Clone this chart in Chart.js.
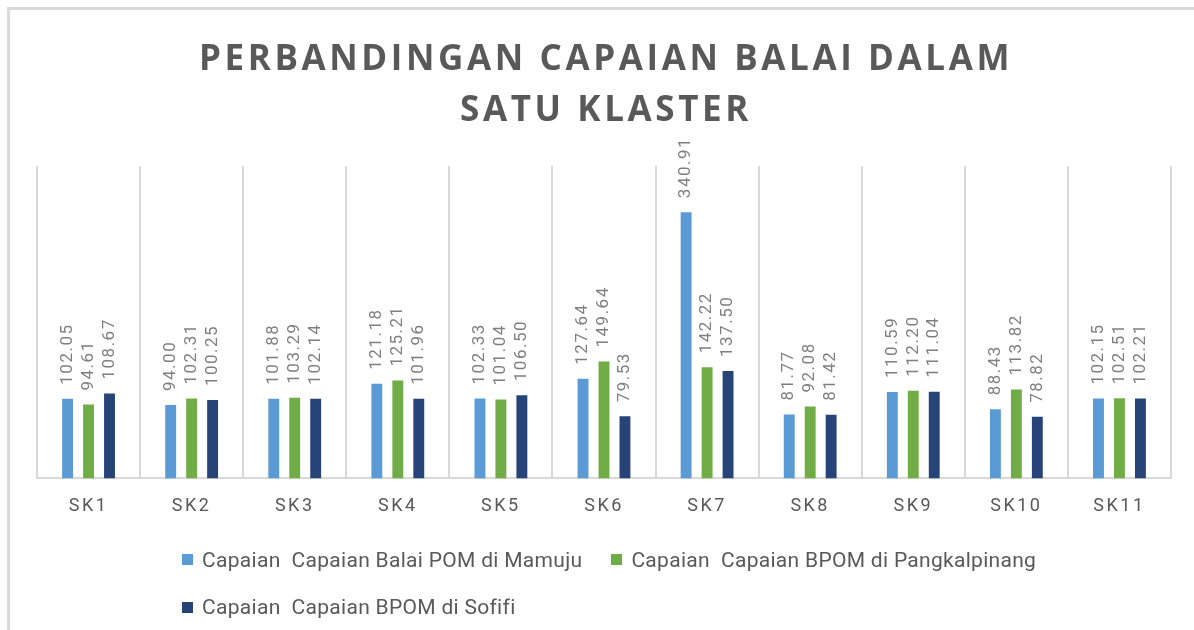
<!DOCTYPE html>
<html>
<head>
<meta charset="utf-8">
<script src="https://cdn.jsdelivr.net/npm/chart.js@4.4.1/dist/chart.umd.min.js"></script>
<style>
  html, body { margin: 0; padding: 0; background: #fff; overflow: hidden; }
  #wrap { position: relative; width: 1194px; height: 630px; }
  #frame {
    position: absolute; left: 7px; top: 7px; width: 1250px; height: 700px;
    border: 3px solid #dadada; box-sizing: border-box;
  }
  #chart { position: absolute; left: 0; top: 0; }
  #legend {
    position: absolute; left: 182px; top: 535px; width: 900px;
    font-family: Roboto, sans-serif; font-size: 21px; letter-spacing: 0.3px;
    color: #595959; line-height: 46px;
  }
  .item { display: inline-flex; align-items: center; margin-right: 29px; white-space: pre; }
  .box { width: 11px; height: 11px; margin-right: 9px; }
</style>
</head>
<body>
<div id="wrap">
  <div id="frame"></div>
  <canvas id="chart" width="1194" height="630"></canvas>
  <div id="legend"></div>
</div>
<script>
// Data
const titleLines = ['PERBANDINGAN CAPAIAN BALAI DALAM', 'SATU KLASTER'];
const categories = ['SK1', 'SK2', 'SK3', 'SK4', 'SK5', 'SK6', 'SK7', 'SK8', 'SK9', 'SK10', 'SK11'];
const seriesNames = [
  'Capaian  Capaian Balai POM di Mamuju',
  'Capaian  Capaian BPOM di Pangkalpinang',
  'Capaian  Capaian BPOM di Sofifi'
];
const mamuju = [102.05, 94.00, 101.88, 121.18, 102.33, 127.64, 340.91, 81.77, 110.59, 88.43, 102.15];
const pangkalpinang = [94.61, 102.31, 103.29, 125.21, 101.04, 149.64, 142.22, 92.08, 112.20, 113.82, 102.51];
const sofifi = [108.67, 100.25, 102.14, 101.96, 106.50, 79.53, 137.50, 81.42, 111.04, 78.82, 102.21];
const colors = ['#5b9bd5', '#70ad47', '#264478'];

// letter spacing for axis labels, reset later
const spacingPlugin = {
  id: 'spacing',
  beforeDraw(chart) {
    chart.ctx.letterSpacing = '2.5px';
  }
};

// rotated value labels above each bar
const valueLabels = {
  id: 'valueLabels',
  afterDatasetsDraw(chart) {
    const ctx = chart.ctx;
    chart.data.datasets.forEach((ds, i) => {
      const meta = chart.getDatasetMeta(i);
      meta.data.forEach((bar, j) => {
        ctx.save();
        ctx.letterSpacing = '1.5px';
        ctx.font = '17px Roboto';
        ctx.fillStyle = '#7f7f7f';
        ctx.translate(bar.x, bar.y - 14);
        ctx.rotate(-Math.PI / 2);
        ctx.textAlign = 'left';
        ctx.textBaseline = 'middle';
        ctx.fillText(ds.data[j].toFixed(2), 0, 0);
        ctx.restore();
      });
    });
  }
};

// title drawn by hand so it can be letter-spaced
const spacedTitle = {
  id: 'spacedTitle',
  afterDraw(chart) {
    const ctx = chart.ctx;
    const cx = (chart.chartArea.left + chart.chartArea.right) / 2 + 2;
    ctx.save();
    ctx.letterSpacing = '3.6px';
    ctx.font = 'bold 35px "Open Sans"';
    ctx.fillStyle = '#595959';
    ctx.textAlign = 'center';
    ctx.textBaseline = 'alphabetic';
    ctx.fillText(titleLines[0], cx, 70);
    ctx.fillText(titleLines[1], cx, 121);
    ctx.restore();
    ctx.letterSpacing = '0px';
  }
};

const ctx = document.getElementById('chart').getContext('2d');
const chart = new Chart(ctx, {
  type: 'bar',
  data: {
    labels: categories,
    datasets: [mamuju, pangkalpinang, sofifi].map((d, i) => ({
      label: seriesNames[i],
      data: d,
      backgroundColor: colors[i],
      borderWidth: 0,
      categoryPercentage: 0.61,
      barPercentage: 0.52
    }))
  },
  options: {
    responsive: false,
    animation: false,
    layout: { padding: { top: 166, left: 37, right: 23, bottom: 96 } },
    plugins: {
      legend: { display: false },
      title: { display: false },
      tooltip: { enabled: false }
    },
    scales: {
      x: {
        grid: { display: true, offset: true, color: '#d9d9d9', lineWidth: 2, drawTicks: false },
        border: { display: true, color: '#d9d9d9', width: 2 },
        ticks: {
          color: '#595959',
          font: { family: 'Roboto', size: 18 },
          padding: 17,
          maxRotation: 0,
          autoSkip: false
        }
      },
      y: { display: false, min: 0, max: 400 }
    }
  },
  plugins: [spacingPlugin, valueLabels, spacedTitle]
});

// legend as html so the third item wraps under the first
const legendBox = document.getElementById('legend');
chart.data.datasets.forEach(ds => {
  const item = document.createElement('span');
  item.className = 'item';
  const sw = document.createElement('span');
  sw.className = 'box';
  sw.style.background = ds.backgroundColor;
  item.appendChild(sw);
  item.appendChild(document.createTextNode(ds.label));
  legendBox.appendChild(item);
});
</script>
</body>
</html>
